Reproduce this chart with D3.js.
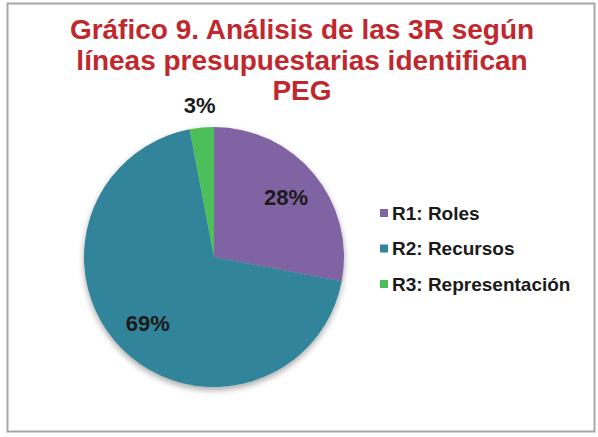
<!DOCTYPE html>
<html>
<head>
<meta charset="utf-8">
<script src="https://cdn.jsdelivr.net/npm/d3@7"></script>
<style>
  html, body { margin: 0; padding: 0; background: #fff; }
  svg { display: block; font-family: "Liberation Sans", Arial, sans-serif; }
</style>
</head>
<body>
<svg id="chart" width="598" height="437"></svg>
<script>
// Data
const titleLines = ['Gráfico 9. Análisis de las 3R según', 'líneas presupuestarias identifican', 'PEG'];
const categories = ['R1: Roles', 'R2: Recursos', 'R3: Representación'];
const values = [28, 69, 3];
const colors = ['#8064a2', '#31849b', '#4dbf5a'];

const svg = d3.select('#chart');

// Outer chart frame
svg.append('rect')
    .attr('x', 7.5).attr('y', 3.5)
    .attr('width', 587).attr('height', 428)
    .attr('fill', '#fff')
    .attr('stroke', '#a6a6a6')
    .attr('stroke-width', 2);

// Title
const title = svg.append('text')
    .attr('text-anchor', 'middle')
    .attr('fill', '#c0282e')
    .style('font-size', '28px')
    .style('font-weight', 'bold');
title.selectAll('tspan')
    .data(titleLines)
    .enter()
    .append('tspan')
    .attr('x', 302)
    .attr('y', (d, i) => 39 + i * 30.5)
    .text(d => d);

// Pie
const cx = 214, cy = 257, radius = 130;
const color = d3.scaleOrdinal().domain(categories).range(colors);
const pie = d3.pie().sort(null).value(d => d.value);
const data = categories.map((c, i) => ({ name: c, value: values[i] }));
const arcs = pie(data);
const total = d3.sum(values);

const arc = d3.arc().innerRadius(0).outerRadius(radius);
const labelArc = d3.arc().innerRadius(radius * 0.72).outerRadius(radius * 0.72);
const outerLabelArc = d3.arc().innerRadius(radius * 1.17).outerRadius(radius * 1.17);

const defs = svg.append('defs');
const shadow = defs.append('filter').attr('id', 'pie-shadow')
    .attr('x', '-10%').attr('y', '-10%').attr('width', '120%').attr('height', '125%');
shadow.append('feGaussianBlur').attr('in', 'SourceAlpha').attr('stdDeviation', 3);
shadow.append('feOffset').attr('dy', 3).attr('result', 'blur');
shadow.append('feComponentTransfer').append('feFuncA').attr('type', 'linear').attr('slope', 0.35);
const merge = shadow.append('feMerge');
merge.append('feMergeNode');
merge.append('feMergeNode').attr('in', 'SourceGraphic');

const pieGroup = svg.append('g')
    .attr('transform', `translate(${cx},${cy})`);

pieGroup.append('g')
    .attr('filter', 'url(#pie-shadow)')
    .selectAll('path')
    .data(arcs)
    .enter()
    .append('path')
    .attr('d', arc)
    .attr('fill', d => color(d.data.name));

pieGroup.selectAll('.label')
    .data(arcs)
    .enter()
    .append('text')
    .attr('class', 'label')
    .attr('transform', d => {
        const small = d.data.value / total < 0.1;
        return `translate(${(small ? outerLabelArc : labelArc).centroid(d)})`;
    })
    .attr('text-anchor', 'middle')
    .attr('dy', '0.35em')
    .attr('fill', '#1a1a1a')
    .style('font-size', '22px')
    .style('font-weight', 'bold')
    .text(d => Math.round(d.data.value / total * 100) + '%');

// Legend
const legend = svg.append('g')
    .attr('transform', 'translate(380, 213)');

const rows = legend.selectAll('g')
    .data(categories)
    .enter()
    .append('g')
    .attr('transform', (d, i) => `translate(0, ${i * 35.5})`);

rows.append('rect')
    .attr('x', 0).attr('y', -4)
    .attr('width', 8).attr('height', 8)
    .attr('fill', d => color(d));

rows.append('text')
    .attr('x', 12)
    .attr('dy', '0.36em')
    .attr('fill', '#1a1a1a')
    .style('font-size', '19px')
    .style('font-weight', 'bold')
    .text(d => d);
</script>
</body>
</html>
